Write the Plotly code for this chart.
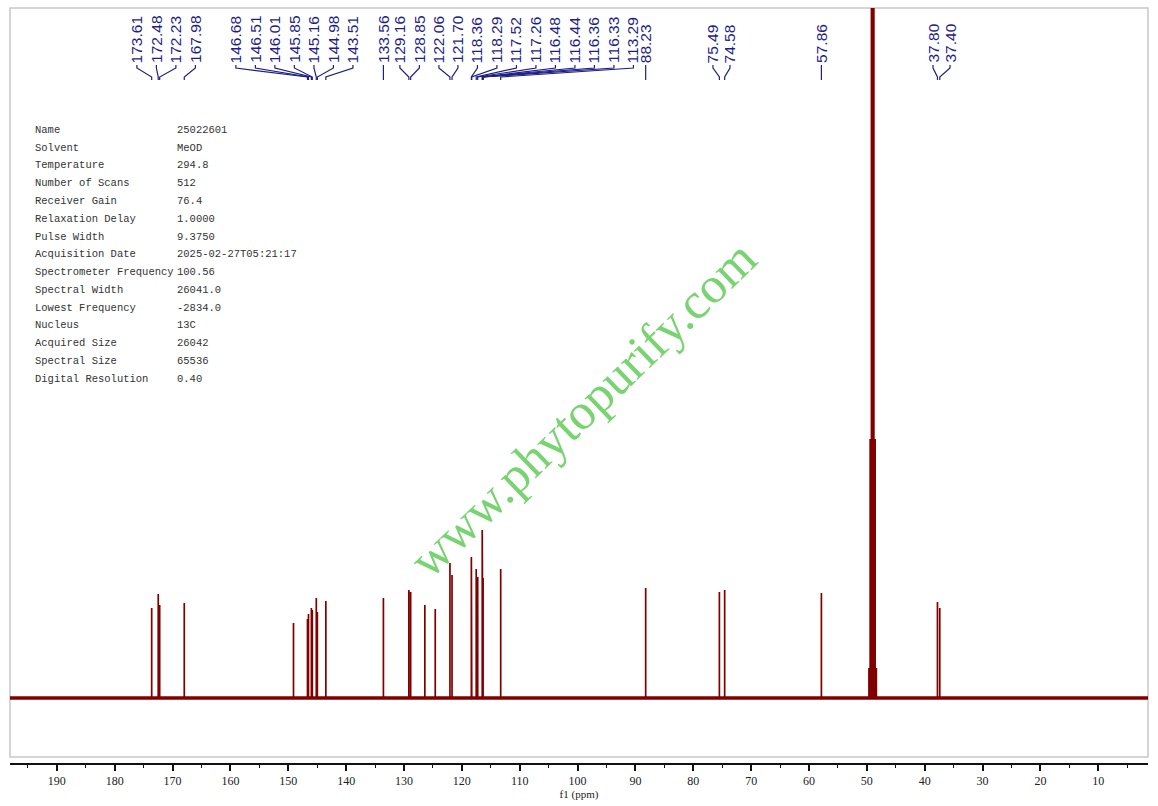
import plotly.graph_objects as go

# ---------------- data ----------------
# peak positions (ppm) and heights (arbitrary units, baseline = 0)
peak_ppm = [173.61, 172.48, 172.23, 167.98, 149.10, 146.68, 146.51, 146.01, 145.85,
            145.16, 144.98, 143.51, 133.56, 129.16, 128.85, 126.40, 124.60, 122.06,
            121.70, 118.36, 118.29, 117.52, 117.26, 116.48, 116.44, 116.36, 116.33,
            113.29, 88.23, 75.49, 74.58, 57.86,
            49.64, 49.43, 49.21, 49.00, 48.79, 48.57, 48.36,
            37.80, 37.40]
peak_height = [90, 104, 93, 95, 75, 79, 84, 90, 88,
               100, 86, 97, 100, 108, 106, 93, 89, 135,
               123, 141, 138, 129, 121, 168, 150, 130, 120,
               129, 110, 106, 108, 105,
               30, 259, 1000, 1000, 1000, 259, 30,
               96, 90]

# labelled peaks (as printed at the top of the spectrum)
label_values = ["173.61", "172.48", "172.23", "167.98",
                "146.68", "146.51", "146.01", "145.85", "145.16", "144.98", "143.51",
                "133.56",
                "129.16", "128.85", "122.06", "121.70", "118.36", "118.29", "117.52",
                "117.26", "116.48", "116.44", "116.36", "116.33", "113.29",
                "88.23", "75.49", "74.58", "57.86", "37.80", "37.40"]

# acquisition parameters table
param_names = ["Name", "Solvent", "Temperature", "Number of Scans", "Receiver Gain",
               "Relaxation Delay", "Pulse Width", "Acquisition Date",
               "Spectrometer Frequency", "Spectral Width", "Lowest Frequency",
               "Nucleus", "Acquired Size", "Spectral Size", "Digital Resolution"]
param_values = ["25022601", "MeOD", "294.8", "512", "76.4", "1.0000", "9.3750",
                "2025-02-27T05:21:17", "100.56", "26041.0", "-2834.0", "13C",
                "26042", "65536", "0.40"]

tick_values = [190, 180, 170, 160, 150, 140, 130, 120, 110, 100, 90, 80, 70, 60, 50, 40, 30, 20, 10]

# ---------------- layout helpers (positions/styles) ----------------
W, H = 1158, 806
ML, MR, MT, MB = 10, 10, 8, 43
PW, PH = W - ML - MR, H - MT - MB
X_RANGE = [198.1, 1.41]
Y_RANGE = [-65, 690]


def pxx(px):
    return (px - ML) / PW


def pxy(py):
    return (H - MB - py) / PH


# label anchor positions along the axis (ppm) where the spread labels sit
label_anchor = [176.17, 172.80, 169.43, 166.06,
                159.06, 155.69, 152.32, 148.95, 145.57, 142.20, 138.83,
                133.56,
                130.71, 127.34, 123.97, 120.68, 117.31, 113.94, 110.57,
                107.20, 103.83, 100.46, 97.09, 93.72, 90.35,
                88.23, 76.60, 73.66, 57.86, 38.57, 35.63]

LINE_COLOR = "#800000"
LABEL_COLOR = "#1e1e86"

# ---------------- spectrum trace ----------------
order = sorted(range(len(peak_ppm)), key=lambda i: -peak_ppm[i])
xs = [X_RANGE[0]]
ys = [0]
for i in order:
    p = peak_ppm[i]
    xs += [p, p, p]
    ys += [0, peak_height[i], 0]
xs.append(X_RANGE[1])
ys.append(0)

fig = go.Figure()
fig.add_trace(go.Scatter(x=[X_RANGE[0], X_RANGE[1]], y=[0, 0], mode="lines",
                         line=dict(color=LINE_COLOR, width=3.5), hoverinfo="skip"))
fig.add_trace(go.Scatter(x=xs, y=ys, mode="lines",
                         line=dict(color=LINE_COLOR, width=1.7), hoverinfo="skip"))

annotations = []
shapes = []

# frame
shapes.append(dict(type="rect", xref="paper", yref="paper", x0=0, x1=1,
                   y0=pxy(757), y1=1, line=dict(color="#c8c8c8", width=1.5),
                   layer="below"))

# peak labels with connectors
for txt, anc in zip(label_values, label_anchor):
    pk = float(txt)
    annotations.append(dict(x=anc, y=pxy(64), xref="x", yref="paper",
                            text=txt, textangle=-90, showarrow=False,
                            xanchor="center", yanchor="bottom",
                            font=dict(family="Liberation Sans, Arial", size=15.5,
                                      color=LABEL_COLOR),
                            borderpad=0))
    path = (f"M {anc},{pxy(65)} L {anc},{pxy(68)} L {pk},{pxy(77)} "
            f"L {pk},{pxy(80)}")
    shapes.append(dict(type="path", xref="x", yref="paper", path=path,
                       line=dict(color=LABEL_COLOR, width=1.2)))

# parameter table
row_y0, row_dy = 130, 17.75
for k, (nm, val) in enumerate(zip(param_names, param_values)):
    yy = pxy(row_y0 + k * row_dy)
    for xp, t in ((33, nm), (175, val)):
        annotations.append(dict(x=pxx(xp), y=yy, xref="paper", yref="paper",
                                text=t, showarrow=False, xanchor="left",
                                yanchor="middle",
                                font=dict(family="Liberation Mono, monospace",
                                          size=10.5, color="#333333")))

# watermark
annotations.append(dict(x=pxx(583), y=pxy(409), xref="paper", yref="paper",
                        text="www.phytopurify.com", textangle=-44, showarrow=False,
                        xanchor="center", yanchor="middle",
                        font=dict(family="Liberation Serif, Times New Roman, serif",
                                  size=51, color="rgb(120,212,112)")))

fig.update_layout(
    width=W, height=H,
    margin=dict(l=ML, r=MR, t=MT, b=MB, pad=0),
    paper_bgcolor="white", plot_bgcolor="white",
    showlegend=False,
    annotations=annotations,
    shapes=shapes,
    xaxis=dict(range=X_RANGE, showgrid=False, zeroline=False,
               showline=True, linecolor="#111111", linewidth=2,
               ticks="outside", ticklen=6, tickwidth=1.5, tickcolor="#111111",
               tickvals=tick_values, ticktext=[str(v) for v in tick_values],
               minor=dict(tickvals=[v + 5 for v in tick_values] + [5],
                          ticks="outside", ticklen=3, tickwidth=1.2,
                          tickcolor="#111111"),
               tickfont=dict(family="Liberation Serif, serif", size=12,
                             color="#222222"),
               title=dict(text="f1 (ppm)", standoff=2,
                          font=dict(family="Liberation Serif, serif", size=11,
                                    color="#222222"))),
    yaxis=dict(range=Y_RANGE, visible=False, showgrid=False, zeroline=False),
)

fig.write_html("out.html",
               config={"displayModeBar": False},
               post_script="document.body.style.margin='0';"
                           "document.body.style.overflow='hidden';")
